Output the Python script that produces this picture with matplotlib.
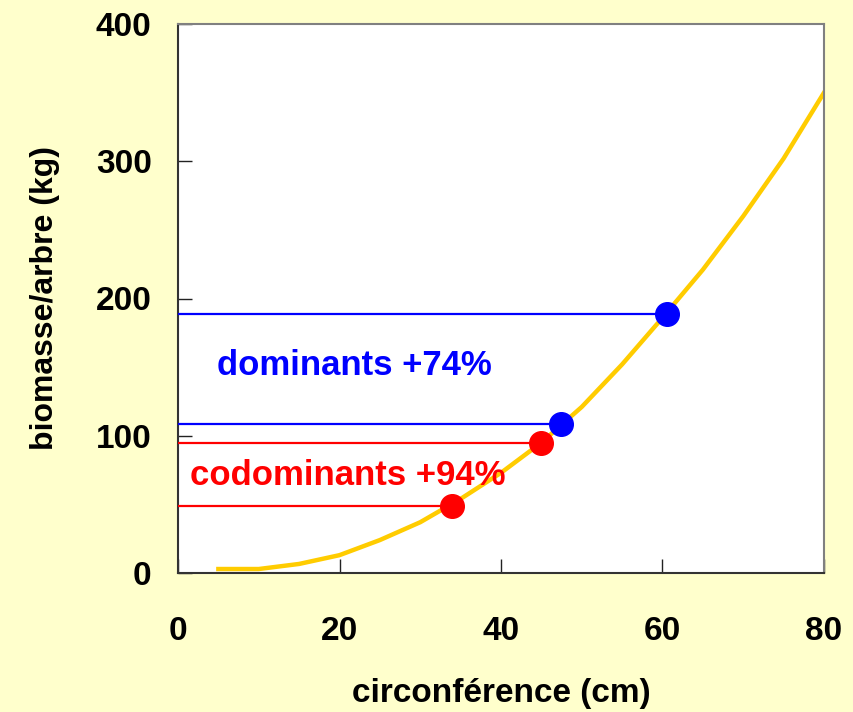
import numpy as np
import matplotlib.pyplot as plt

plt.rcParams['font.family'] = ['Liberation Sans', 'DejaVu Sans']
plt.rcParams['font.weight'] = 'bold'

# allometric curve biomass vs circumference
circ = [5, 10, 15, 20, 25, 30, 35, 40, 45, 50, 55, 60, 65, 70, 75, 80]
biomass = [2.9, 2.9, 6.6, 13, 24, 37, 54, 73, 95, 121, 152, 186, 221, 260, 302, 350]

# dominant / codominant trees (circumference, biomass)
dom_c = [47.4, 60.5]
dom_b = [108.5, 189]
codom_c = [33.9, 44.9]
codom_b = [48.8, 94.7]

BG = '#FFFFCC'

fig = plt.figure(figsize=(8.54, 7.12), dpi=100, facecolor=BG)
ax = fig.add_axes([178/854, 1 - 573/712, (824-178)/854, (573-24)/712])
ax.set_facecolor('white')

ax.plot(circ, biomass, color='#FFCC00', lw=3.2, zorder=2)

for c, b in zip(dom_c, dom_b):
    ax.plot([0, c], [b, b], color='#0000FF', lw=1.6, zorder=3)
for c, b in zip(codom_c, codom_b):
    ax.plot([0, c], [b, b], color='#FF0000', lw=1.6, zorder=3)
ax.plot(dom_c, dom_b, 'o', color='#0000FF', ms=17, zorder=4)
ax.plot(codom_c, codom_b, 'o', color='#FF0000', ms=17, zorder=4)

ax.text(4.8, 151, 'dominants +74%', color='#0000FF', fontsize=25,
        fontweight='bold', va='center', ha='left')
ax.text(1.5, 71, 'codominants +94%', color='#FF0000', fontsize=25,
        fontweight='bold', va='center', ha='left')

ax.set_xlim(0, 80)
ax.set_ylim(0, 400)
ax.set_xticks([0, 20, 40, 60, 80])
ax.set_yticks([0, 100, 200, 300, 400])
ax.tick_params(direction='in', length=10, width=1, colors='#222222',
               labelsize=24, labelcolor='black')
ax.tick_params(axis='y', pad=19)
ax.tick_params(axis='x', pad=31)
for lab in ax.get_xticklabels() + ax.get_yticklabels():
    lab.set_fontweight('bold')

for side in ['left', 'bottom']:
    ax.spines[side].set_color('#333333')
    ax.spines[side].set_linewidth(1.5)
for side in ['right', 'top']:
    ax.spines[side].set_color('#808080')
    ax.spines[side].set_linewidth(1.5)

ax.set_xlabel('circonférence (cm)', fontsize=24, fontweight='bold', labelpad=22)
ax.set_ylabel('biomasse/arbre (kg)', fontsize=23, fontweight='bold', labelpad=26)

fig.savefig('out.png', dpi=100, facecolor=BG)
